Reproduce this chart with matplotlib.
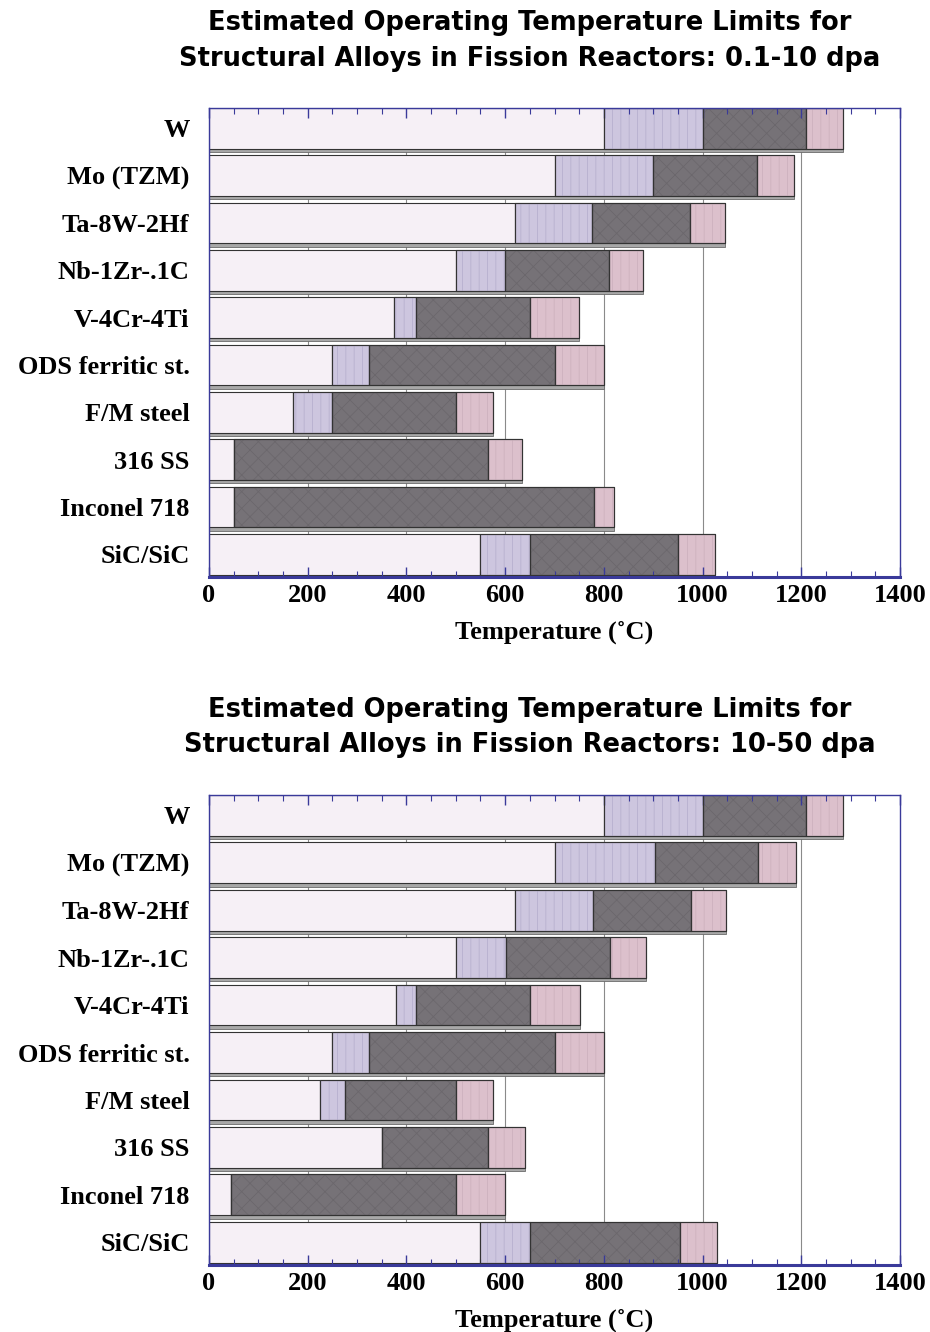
import numpy as np
import matplotlib
matplotlib.use("Agg")
import matplotlib.pyplot as plt
from matplotlib.ticker import MultipleLocator

plt.rcParams["hatch.linewidth"] = 0.6

# ---- data (°C): segment edges per alloy ----
alloys = ["W", "Mo (TZM)", "Ta-8W-2Hf", "Nb-1Zr-.1C", "V-4Cr-4Ti",
          "ODS ferritic st.", "F/M steel", "316 SS", "Inconel 718", "SiC/SiC"]

# 0.1-10 dpa
low_a = [800, 700, 620, 500, 375, 250, 170, 50, 50, 550]      # end of white zone
lav_a = [1000, 900, 775, 600, 420, 325, 250, 50, 50, 650]     # end of lavender zone
dark_a = [1210, 1110, 975, 810, 650, 700, 500, 565, 780, 950]  # end of dark zone
pink_a = [1285, 1185, 1045, 880, 750, 800, 575, 635, 820, 1025]  # end of pink zone

# 10-50 dpa
low_b = [800, 700, 620, 500, 378, 250, 225, 350, 45, 550]
lav_b = [1000, 903, 777, 601, 420, 325, 275, 350, 45, 650]
dark_b = [1210, 1113, 976, 812, 650, 700, 500, 565, 500, 954]
pink_b = [1285, 1190, 1048, 886, 751, 800, 576, 640, 600, 1029]

titles = ["Estimated Operating Temperature Limits for\nStructural Alloys in Fission Reactors: 0.1-10 dpa",
          "Estimated Operating Temperature Limits for\nStructural Alloys in Fission Reactors: 10-50 dpa"]

c_low = "#f6f0f6"
c_lav = "#cdc6df"
c_dark = "#767277"
c_pink = "#dcc0cc"
c_spine = "#3a3a9a"
serif = "Liberation Serif"

W, H = 930, 1332
fig = plt.figure(figsize=(W / 100, H / 100), dpi=100)


def draw(ax, low, lav, dark, pink):
    y = np.arange(len(alloys))
    h = 0.86
    for x in range(200, 1400, 200):
        ax.axvline(x, color="#8a8a8a", lw=0.8, zorder=0.5)
    # drop shadow
    ax.barh(y + 0.07, pink, left=0, height=h, color="#a8a8a8",
            edgecolor="#6a6a6a", lw=0.6, zorder=1)
    starts = [np.zeros(len(low)), np.array(low), np.array(lav), np.array(dark)]
    ends = [np.array(low), np.array(lav), np.array(dark), np.array(pink)]
    cols = [c_low, c_lav, c_dark, c_pink]
    hatches = [None, "||", "xx", "||"]
    hcols = [None, "#b7b0cf", "#6b676c", "#cdb1be"]
    for s, e, c, ht, hc in zip(starts, ends, cols, hatches, hcols):
        ax.barh(y, e - s, left=s, height=h, color=c, edgecolor="#333333",
                lw=0.8, zorder=1.2)
        if ht:
            ax.barh(y, e - s, left=s, height=h, fill=False, hatch=ht,
                    edgecolor=hc, lw=0, zorder=1.4)
            ax.barh(y, e - s, left=s, height=h, fill=False,
                    edgecolor="#333333", lw=0.8, zorder=1.6)
    ax.set_xlim(0, 1400)
    ax.set_ylim(len(alloys) - 0.52, -0.43)
    ax.set_yticks(y)
    ax.set_yticklabels(alloys, fontfamily=serif, fontweight="bold",
                       fontsize=19)
    ax.tick_params(axis="y", length=0, pad=14)
    ax.xaxis.set_major_locator(MultipleLocator(200))
    ax.xaxis.set_minor_locator(MultipleLocator(50))
    ax.tick_params(axis="x", which="both", direction="in", top=True,
                   color=c_spine, labelsize=19, pad=5)
    ax.tick_params(axis="x", which="major", length=7, width=1)
    ax.tick_params(axis="x", which="minor", length=4, width=0.8)
    for lab in ax.get_xticklabels():
        lab.set_fontfamily(serif)
        lab.set_fontweight("bold")
    for sp in ax.spines.values():
        sp.set_color(c_spine)
        sp.set_linewidth(1.0)
    ax.spines["bottom"].set_linewidth(2.2)
    ax.set_xlabel("Temperature (˚C)", fontfamily=serif, fontweight="bold",
                  fontsize=19, labelpad=10)


ax1 = fig.add_axes([209 / W, 1 - 577 / H, (900 - 209) / W, (577 - 108) / H])
ax2 = fig.add_axes([209 / W, 1 - 1265 / H, (900 - 209) / W, (1265 - 795) / H])
draw(ax1, low_a, lav_a, dark_a, pink_a)
draw(ax2, low_b, lav_b, dark_b, pink_b)

fig.text(530 / W, 1 - 41 / H, titles[0], ha="center", va="center",
         fontsize=18.5, fontweight="bold", linespacing=1.5)
fig.text(530 / W, 1 - 727 / H, titles[1], ha="center", va="center",
         fontsize=18.5, fontweight="bold", linespacing=1.45)

fig.savefig("out.png", dpi=100, facecolor="white")
